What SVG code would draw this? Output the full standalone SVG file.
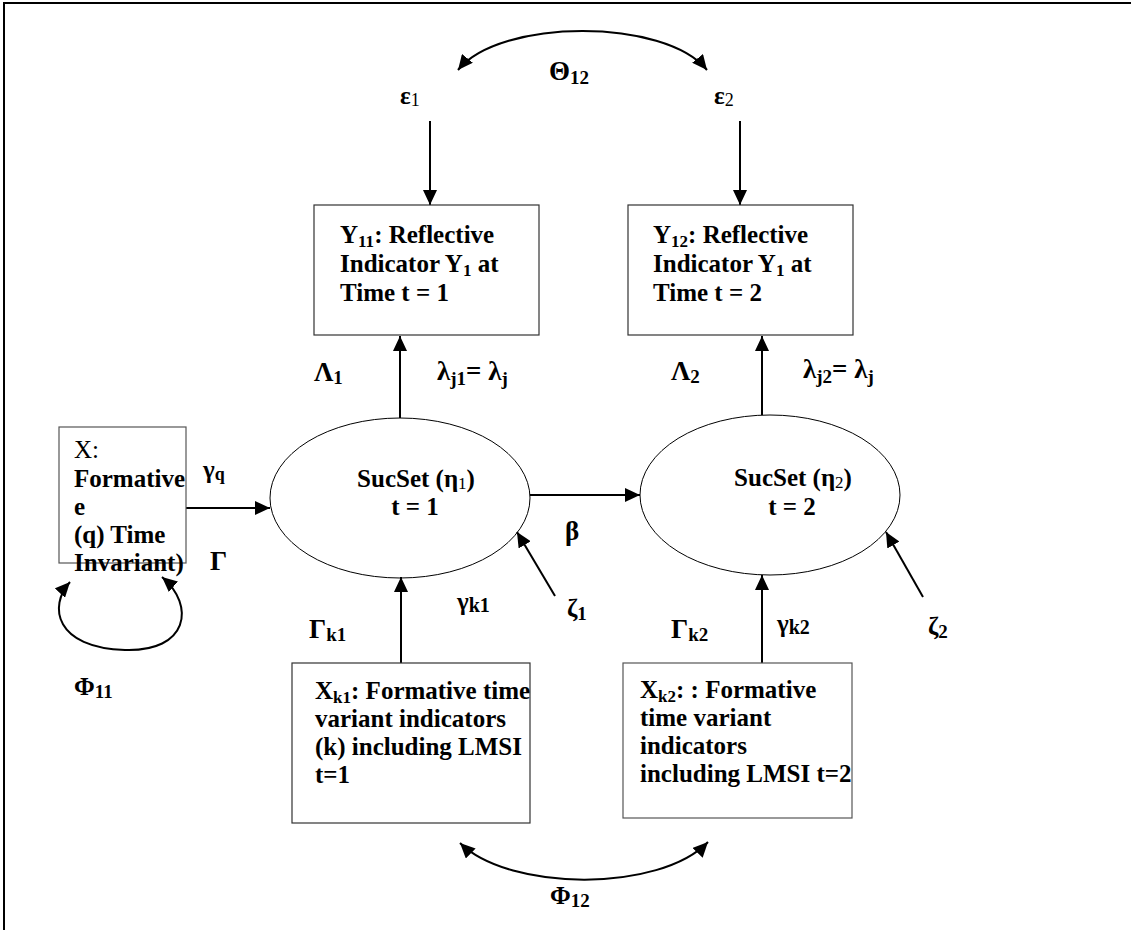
<svg xmlns="http://www.w3.org/2000/svg" width="1131" height="930" viewBox="0 0 1131 930">
<style>
text{font-family:"Liberation Serif","Times New Roman",serif;font-size:25px;fill:#000}
.b{font-weight:bold}
.g{font-size:27px}
.box{fill:none;stroke:#333;stroke-width:1.2}
.ell{fill:none;stroke:#000;stroke-width:1}
.c{fill:none;stroke:#000;stroke-width:2}
.mid{text-anchor:middle}
</style>
<defs>
<marker id="ah" markerUnits="userSpaceOnUse" markerWidth="16" markerHeight="14" refX="15" refY="7" orient="auto-start-reverse">
<path d="M0,0 L15,7 L0,14 Z" fill="#000"/>
</marker>
</defs>
<g id="frame"><path d="M4,930 V3 H1131" fill="none" stroke="#000" stroke-width="2"/></g>

<g id="connectors">
<path class="c" d="M458,70 C500,18 665,18 707,70" marker-start="url(#ah)" marker-end="url(#ah)"/>
<line class="c" x1="430" y1="121" x2="430" y2="205" marker-end="url(#ah)"/>
<line class="c" x1="740" y1="121" x2="740" y2="205" marker-end="url(#ah)"/>
<line class="c" x1="400" y1="418" x2="400" y2="336" marker-end="url(#ah)"/>
<line class="c" x1="762" y1="415" x2="762" y2="336" marker-end="url(#ah)"/>
<line class="c" x1="186" y1="508" x2="270" y2="508" marker-end="url(#ah)"/>
<line class="c" x1="530" y1="495" x2="640" y2="495" marker-end="url(#ah)"/>
<line class="c" x1="555" y1="596" x2="517" y2="532" marker-end="url(#ah)"/>
<line class="c" x1="923" y1="597" x2="886" y2="532" marker-end="url(#ah)"/>
<line class="c" x1="401" y1="663" x2="401" y2="577" marker-end="url(#ah)"/>
<line class="c" x1="762" y1="663" x2="762" y2="575" marker-end="url(#ah)"/>
<path class="c" d="M70,582 C48,606 55,648 125,650 C188,652 196,606 162,577" marker-start="url(#ah)" marker-end="url(#ah)"/>
<path class="c" d="M460,843 C510,892 660,892 708,842" marker-start="url(#ah)" marker-end="url(#ah)"/>
</g>

<g id="labels">
<text class="b g" x="549" y="80" font-size="28">Θ<tspan font-size="19" dy="4">12</tspan></text>
<text class="b" x="400" y="104" font-size="27">ε<tspan font-size="18" font-weight="normal" dy="2">1</tspan></text>
<text class="b" x="714" y="104" font-size="27">ε<tspan font-size="18" font-weight="normal" dy="2">2</tspan></text>
<text class="b g" x="314" y="381">Λ<tspan font-size="19" dy="3">1</tspan></text>
<text class="b g" x="437" y="380">λ<tspan font-size="19" dy="5">j1</tspan><tspan dy="-5">= λ</tspan><tspan font-size="19" dy="5">j</tspan></text>
<text class="b g" x="671" y="380">Λ<tspan font-size="19" dy="3">2</tspan></text>
<text class="b g" x="803" y="378">λ<tspan font-size="19" dy="5">j2</tspan><tspan dy="-5">= λ</tspan><tspan font-size="19" dy="5">j</tspan></text>
<text class="b" x="203" y="478" font-size="26">γ<tspan font-size="18" dy="2">q</tspan></text>
<text class="b g" x="210" y="570">Γ</text>
<text class="b" x="74" y="695" font-size="28">Φ<tspan font-size="19" dy="3">11</tspan></text>
<text class="b g" x="565" y="540">β</text>
<text class="b" x="567" y="617" font-size="26">ζ<tspan font-size="19" dy="3">1</tspan></text>
<text class="b" x="928" y="635" font-size="26">ζ<tspan font-size="19" dy="3">2</tspan></text>
<text class="b" x="457" y="610">γ<tspan font-size="20" dy="2">k1</tspan></text>
<text class="b g" x="309" y="638">Γ<tspan font-size="19" dy="3">k1</tspan></text>
<text class="b g" x="671" y="638">Γ<tspan font-size="19" dy="3">k2</tspan></text>
<text class="b" x="777" y="632">γ<tspan font-size="20" dy="2">k2</tspan></text>
<text class="b" x="550" y="904" font-size="28">Φ<tspan font-size="19" dy="3">12</tspan></text>
</g>

<g id="Y11">
<rect class="box" x="314" y="205" width="225" height="130"/>
<text class="b" x="340" y="243">Y<tspan font-size="17" dy="4">11</tspan><tspan dy="-4">: Reflective</tspan></text>
<text class="b" x="340" y="272">Indicator Y<tspan font-size="17" dy="4">1</tspan><tspan dy="-4"> at</tspan></text>
<text class="b" x="340" y="301">Time t = 1</text>
</g>

<g id="Y12">
<rect class="box" x="628" y="205" width="225" height="130"/>
<text class="b" x="653" y="243">Y<tspan font-size="17" dy="4">12</tspan><tspan dy="-4">: Reflective</tspan></text>
<text class="b" x="653" y="272">Indicator Y<tspan font-size="17" dy="4">1</tspan><tspan dy="-4"> at</tspan></text>
<text class="b" x="653" y="301">Time t = 2</text>
</g>

<g id="X">
<rect class="box" x="59" y="427" width="127" height="136" style="stroke:#555"/>
<text x="74" y="458">X:</text>
<text class="b" x="74" y="487">Formative</text>
<text class="b" x="74" y="515">e</text>
<text class="b" x="74" y="543">(q) Time</text>
<text class="b" x="74" y="571">Invariant)</text>
</g>

<g id="eta1">
<ellipse class="ell" cx="400" cy="498" rx="130" ry="80"/>
<text class="b mid" x="416" y="487">SucSet (η<tspan font-size="17" font-weight="normal" dy="2">1</tspan><tspan dy="-2">)</tspan></text>
<text class="b mid" x="415" y="515">t = 1</text>
</g>

<g id="eta2">
<ellipse class="ell" cx="770" cy="495" rx="130" ry="80"/>
<text class="b mid" x="793" y="486">SucSet (η<tspan font-size="17" font-weight="normal" dy="2">2</tspan><tspan dy="-2">)</tspan></text>
<text class="b mid" x="792" y="515">t = 2</text>
</g>

<g id="Xk1">
<rect class="box" x="292" y="663" width="238" height="160"/>
<text class="b" x="315" y="699">X<tspan font-size="17" dy="4">k1</tspan><tspan dy="-4">: Formative time</tspan></text>
<text class="b" x="315" y="727">variant indicators</text>
<text class="b" x="315" y="755">(k) including LMSI</text>
<text class="b" x="315" y="783">t=1</text>
</g>

<g id="Xk2">
<rect class="box" x="623" y="663" width="229" height="155" style="stroke:#555"/>
<text class="b" x="640" y="698">X<tspan font-size="17" dy="4">k2</tspan><tspan dy="-4">: : Formative</tspan></text>
<text class="b" x="640" y="726">time variant</text>
<text class="b" x="640" y="754">indicators</text>
<text class="b" x="640" y="782">including LMSI t=2</text>
</g>
</svg>
